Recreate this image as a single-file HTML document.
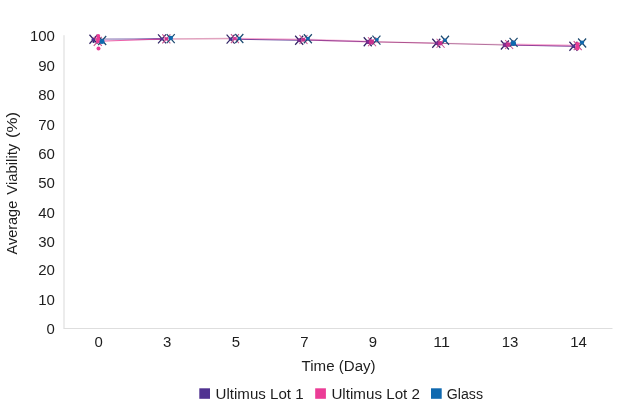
<!DOCTYPE html>
<html><head><meta charset="utf-8"><title>Average Viability</title>
<style>html,body{margin:0;padding:0;background:#fff;}body{width:620px;height:405px;overflow:hidden;}svg{display:block;}text{font-family:"Liberation Sans",sans-serif;font-size:14px;fill:#1b1b1b;}.t{font-size:15px;}</style>
</head><body>
<svg width="620" height="405" viewBox="0 0 620 405">
<defs><linearGradient id="g0" gradientUnits="userSpaceOnUse" x1="100" y1="0" x2="162" y2="0"><stop offset="0" stop-color="#503291" stop-opacity="0.38"/><stop offset="0.55" stop-color="#503291" stop-opacity="0.45"/><stop offset="1" stop-color="#503291" stop-opacity="0.85"/></linearGradient></defs>
<rect width="620" height="405" fill="#ffffff"/>
<line x1="64" y1="35.2" x2="64" y2="328.5" stroke="#d9d9d9" stroke-width="1"/>
<line x1="63.5" y1="328.5" x2="612.5" y2="328.5" stroke="#dedede" stroke-width="1"/>
<g opacity="0.99">
<text class="t" x="54.9" y="41.0" text-anchor="end" textLength="25.0" lengthAdjust="spacingAndGlyphs">100</text>
<text class="t" x="54.9" y="70.9" text-anchor="end" textLength="16.7" lengthAdjust="spacingAndGlyphs">90</text>
<text class="t" x="54.9" y="100.3" text-anchor="end" textLength="16.7" lengthAdjust="spacingAndGlyphs">80</text>
<text class="t" x="54.9" y="129.5" text-anchor="end" textLength="16.7" lengthAdjust="spacingAndGlyphs">70</text>
<text class="t" x="54.9" y="158.5" text-anchor="end" textLength="16.7" lengthAdjust="spacingAndGlyphs">60</text>
<text class="t" x="54.9" y="188.2" text-anchor="end" textLength="16.7" lengthAdjust="spacingAndGlyphs">50</text>
<text class="t" x="54.9" y="217.6" text-anchor="end" textLength="16.7" lengthAdjust="spacingAndGlyphs">40</text>
<text class="t" x="54.9" y="247.3" text-anchor="end" textLength="16.7" lengthAdjust="spacingAndGlyphs">30</text>
<text class="t" x="54.9" y="274.8" text-anchor="end" textLength="16.7" lengthAdjust="spacingAndGlyphs">20</text>
<text class="t" x="54.9" y="304.5" text-anchor="end" textLength="16.7" lengthAdjust="spacingAndGlyphs">10</text>
<text class="t" x="54.9" y="333.5" text-anchor="end" textLength="8.3" lengthAdjust="spacingAndGlyphs">0</text>
<text class="t" x="98.7" y="346.8" text-anchor="middle" textLength="8.3" lengthAdjust="spacingAndGlyphs">0</text>
<text class="t" x="167.2" y="346.8" text-anchor="middle" textLength="8.3" lengthAdjust="spacingAndGlyphs">3</text>
<text class="t" x="235.8" y="346.8" text-anchor="middle" textLength="8.3" lengthAdjust="spacingAndGlyphs">5</text>
<text class="t" x="304.4" y="346.8" text-anchor="middle" textLength="8.3" lengthAdjust="spacingAndGlyphs">7</text>
<text class="t" x="372.9" y="346.8" text-anchor="middle" textLength="8.3" lengthAdjust="spacingAndGlyphs">9</text>
<text class="t" x="441.5" y="346.8" text-anchor="middle" textLength="16.7" lengthAdjust="spacingAndGlyphs">11</text>
<text class="t" x="510.1" y="346.8" text-anchor="middle" textLength="16.7" lengthAdjust="spacingAndGlyphs">13</text>
<text class="t" x="578.6" y="346.8" text-anchor="middle" textLength="16.7" lengthAdjust="spacingAndGlyphs">14</text>
<text x="338.6" y="370.9" text-anchor="middle" textLength="74" lengthAdjust="spacingAndGlyphs">Time (Day)</text>
<text transform="translate(17.2,254.4) rotate(-90)" textLength="53.6" lengthAdjust="spacingAndGlyphs">Average</text>
<text transform="translate(17.2,194.7) rotate(-90)" textLength="51.0" lengthAdjust="spacingAndGlyphs">Viability</text>
<text transform="translate(17.2,138.1) rotate(-90)" textLength="26.2" lengthAdjust="spacingAndGlyphs">(%)</text>
<text x="215.6" y="399" textLength="88" lengthAdjust="spacingAndGlyphs">Ultimus Lot 1</text>
<text x="331.4" y="399" textLength="88.6" lengthAdjust="spacingAndGlyphs">Ultimus Lot 2</text>
<text x="446.8" y="399" textLength="36.2" lengthAdjust="spacingAndGlyphs">Glass</text>
</g>
<rect x="199.3" y="388.3" width="10.7" height="10.5" fill="#503291"/>
<rect x="315.2" y="388.3" width="10.7" height="10.5" fill="#EB3C96"/>
<rect x="431" y="388.3" width="10.7" height="10.5" fill="#0F69AF"/>
<line x1="93.48" y1="39.25" x2="162.04" y2="38.90" stroke="url(#g0)" stroke-width="2.0" stroke-opacity="1"/>
<line x1="97.78" y1="41.30" x2="166.34" y2="38.90" stroke="#EB3C96" stroke-width="1.0" stroke-opacity="0.8"/>
<line x1="166.34" y1="38.90" x2="234.91" y2="38.60" stroke="#cf6a98" stroke-width="1.5" stroke-opacity="0.62"/>
<line x1="230.61" y1="39.20" x2="299.17" y2="40.25" stroke="#503291" stroke-width="1.0" stroke-opacity="0.9"/>
<line x1="234.91" y1="38.60" x2="303.47" y2="39.50" stroke="#EB3C96" stroke-width="1.5" stroke-opacity="0.45"/>
<line x1="303.47" y1="39.50" x2="372.03" y2="41.75" stroke="#EB3C96" stroke-width="1.8" stroke-opacity="0.3"/>
<line x1="301.32" y1="39.88" x2="369.88" y2="41.75" stroke="#8e2f8c" stroke-width="1.1" stroke-opacity="0.85"/>
<line x1="372.03" y1="41.75" x2="440.59" y2="43.25" stroke="#EB3C96" stroke-width="1.7" stroke-opacity="0.2"/>
<line x1="369.88" y1="41.75" x2="438.44" y2="43.25" stroke="#a0387c" stroke-width="1.0" stroke-opacity="0.85"/>
<line x1="440.59" y1="43.25" x2="509.16" y2="44.50" stroke="#EB3C96" stroke-width="1.5" stroke-opacity="0.15"/>
<line x1="436.29" y1="43.25" x2="504.86" y2="45.00" stroke="#9c4a80" stroke-width="1.0" stroke-opacity="0.75"/>
<line x1="504.86" y1="45.00" x2="573.42" y2="46.25" stroke="#503291" stroke-width="1.0" stroke-opacity="0.9"/>
<line x1="509.16" y1="44.50" x2="577.72" y2="45.60" stroke="#EB3C96" stroke-width="1.8" stroke-opacity="0.45"/>
<path d="M89.48 34.75L97.48 43.75M89.48 43.75L97.48 34.75" stroke="#2f2363" stroke-width="1.2" fill="none" stroke-linecap="butt"/>
<path d="M158.04 34.40L166.04 43.40M158.04 43.40L166.04 34.40" stroke="#2f2363" stroke-width="1.2" fill="none" stroke-linecap="butt"/>
<path d="M226.61 34.70L234.61 43.70M226.61 43.70L234.61 34.70" stroke="#2f2363" stroke-width="1.2" fill="none" stroke-linecap="butt"/>
<path d="M295.17 35.75L303.17 44.75M295.17 44.75L303.17 35.75" stroke="#2f2363" stroke-width="1.2" fill="none" stroke-linecap="butt"/>
<path d="M363.73 37.25L371.73 46.25M363.73 46.25L371.73 37.25" stroke="#2f2363" stroke-width="1.2" fill="none" stroke-linecap="butt"/>
<path d="M432.29 38.75L440.29 47.75M432.29 47.75L440.29 38.75" stroke="#2f2363" stroke-width="1.2" fill="none" stroke-linecap="butt"/>
<path d="M500.86 40.50L508.86 49.50M500.86 49.50L508.86 40.50" stroke="#2f2363" stroke-width="1.2" fill="none" stroke-linecap="butt"/>
<path d="M569.42 41.75L577.42 50.75M569.42 50.75L577.42 41.75" stroke="#2f2363" stroke-width="1.2" fill="none" stroke-linecap="butt"/>
<path d="M93.78 36.80L101.78 45.80M93.78 45.80L101.78 36.80" stroke="#c9508f" stroke-width="1.05" fill="none" stroke-linecap="butt"/>
<path d="M162.34 34.40L170.34 43.40M162.34 43.40L170.34 34.40" stroke="#c9508f" stroke-width="1.05" fill="none" stroke-linecap="butt"/>
<path d="M230.91 34.10L238.91 43.10M230.91 43.10L238.91 34.10" stroke="#c9508f" stroke-width="1.05" fill="none" stroke-linecap="butt"/>
<path d="M299.47 35.00L307.47 44.00M299.47 44.00L307.47 35.00" stroke="#c9508f" stroke-width="1.05" fill="none" stroke-linecap="butt"/>
<path d="M368.03 37.25L376.03 46.25M368.03 46.25L376.03 37.25" stroke="#c9508f" stroke-width="1.05" fill="none" stroke-linecap="butt"/>
<path d="M436.59 38.75L444.59 47.75M436.59 47.75L444.59 38.75" stroke="#c9508f" stroke-width="1.05" fill="none" stroke-linecap="butt"/>
<path d="M505.16 40.00L513.16 49.00M505.16 49.00L513.16 40.00" stroke="#c9508f" stroke-width="1.05" fill="none" stroke-linecap="butt"/>
<path d="M573.72 41.10L581.72 50.10M573.72 50.10L581.72 41.10" stroke="#c9508f" stroke-width="1.05" fill="none" stroke-linecap="butt"/>
<path d="M98.18 36.00L106.18 45.00M98.18 45.00L106.18 36.00" stroke="#1c4a70" stroke-width="1.2" fill="none" stroke-linecap="butt"/>
<path d="M166.74 34.10L174.74 43.10M166.74 43.10L174.74 34.10" stroke="#1c4a70" stroke-width="1.2" fill="none" stroke-linecap="butt"/>
<path d="M235.31 34.00L243.31 43.00M235.31 43.00L243.31 34.00" stroke="#1c4a70" stroke-width="1.2" fill="none" stroke-linecap="butt"/>
<path d="M303.87 34.25L311.87 43.25M303.87 43.25L311.87 34.25" stroke="#1c4a70" stroke-width="1.2" fill="none" stroke-linecap="butt"/>
<path d="M372.43 35.70L380.43 44.70M372.43 44.70L380.43 35.70" stroke="#1c4a70" stroke-width="1.2" fill="none" stroke-linecap="butt"/>
<path d="M440.99 35.75L448.99 44.75M440.99 44.75L448.99 35.75" stroke="#1c4a70" stroke-width="1.2" fill="none" stroke-linecap="butt"/>
<path d="M509.56 37.80L517.56 46.80M509.56 46.80L517.56 37.80" stroke="#1c4a70" stroke-width="1.2" fill="none" stroke-linecap="butt"/>
<path d="M578.12 38.50L586.12 47.50M578.12 47.50L586.12 38.50" stroke="#1c4a70" stroke-width="1.2" fill="none" stroke-linecap="butt"/>
<circle cx="93.20" cy="39.30" r="1.60" fill="#503291"/>
<circle cx="162.00" cy="38.90" r="1.50" fill="#503291"/>
<circle cx="230.40" cy="39.10" r="1.70" fill="#503291"/>
<circle cx="299.30" cy="40.30" r="2.00" fill="#7c2c8e"/>
<circle cx="368.00" cy="41.90" r="2.20" fill="#7c2c8e"/>
<circle cx="437.30" cy="43.30" r="2.00" fill="#7c2c8e"/>
<circle cx="505.00" cy="44.90" r="2.30" fill="#7c2c8e"/>
<circle cx="573.60" cy="46.30" r="1.70" fill="#503291"/>
<circle cx="166.40" cy="38.90" r="1.70" fill="#d0308c"/>
<circle cx="234.70" cy="38.60" r="1.70" fill="#d8389a"/>
<circle cx="303.30" cy="39.70" r="2.00" fill="#c7328f"/>
<circle cx="371.40" cy="41.90" r="2.60" fill="#c7328f"/>
<circle cx="440.30" cy="43.30" r="2.30" fill="#c7328f"/>
<circle cx="508.20" cy="44.60" r="2.40" fill="#c7328f"/>
<circle cx="98.25" cy="36.00" r="2.00" fill="#EB3C96"/>
<circle cx="98.10" cy="38.80" r="2.00" fill="#EB3C96"/>
<circle cx="98.00" cy="41.30" r="2.00" fill="#EB3C96"/>
<circle cx="98.50" cy="48.50" r="2.00" fill="#EB3C96"/>
<circle cx="93.60" cy="41.80" r="1.20" fill="#3a2878"/>
<circle cx="577.50" cy="44.00" r="2.00" fill="#EB3C96"/>
<circle cx="577.50" cy="46.30" r="2.00" fill="#EB3C96"/>
<circle cx="577.50" cy="48.50" r="2.00" fill="#EB3C96"/>
<circle cx="102.00" cy="41.50" r="2.50" fill="#0F69AF"/>
<circle cx="170.75" cy="38.00" r="2.30" fill="#0F69AF"/>
<circle cx="239.50" cy="38.30" r="1.60" fill="#0F69AF"/>
<circle cx="308.00" cy="38.60" r="1.80" fill="#0F69AF"/>
<circle cx="377.00" cy="39.80" r="1.80" fill="#0F69AF"/>
<circle cx="445.00" cy="40.20" r="1.80" fill="#0F69AF"/>
<circle cx="513.30" cy="43.30" r="2.70" fill="#0F69AF"/>
<circle cx="582.00" cy="42.50" r="2.10" fill="#0F69AF"/>
</svg></body></html>
